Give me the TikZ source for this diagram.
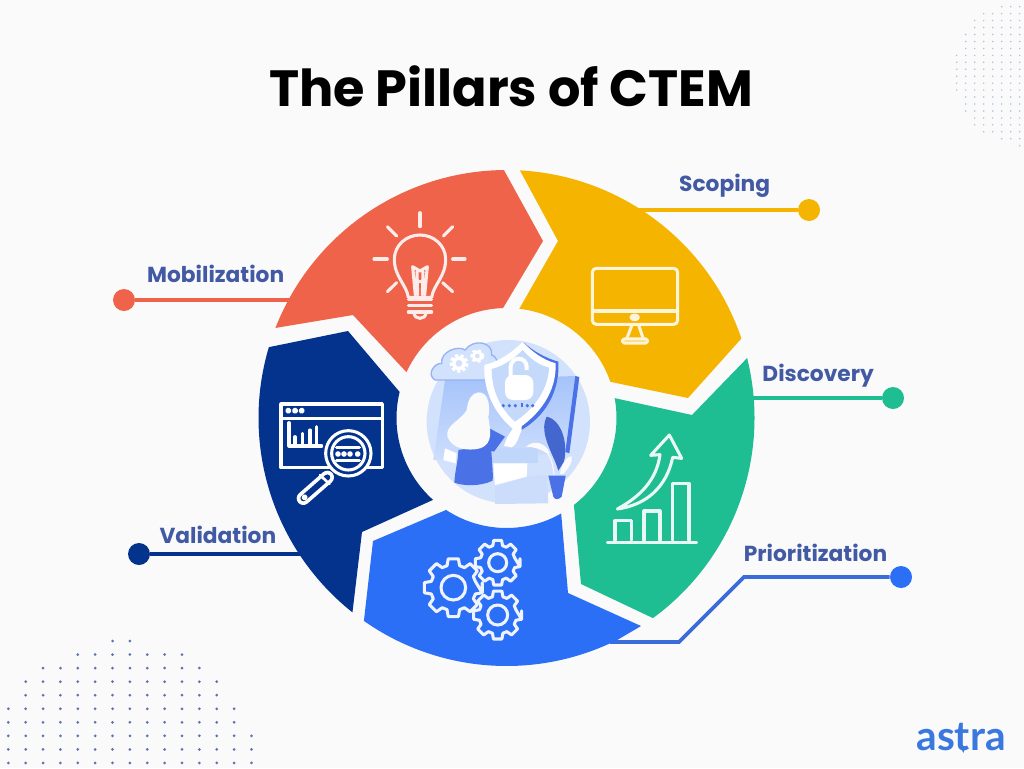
\documentclass[tikz,border=0pt]{standalone}
\usepackage{fontspec}
\setmainfont{Poppins}
\newfontfamily\logofont{Lato}
\usetikzlibrary{positioning}

\definecolor{paper}{HTML}{FAFAFB}
\definecolor{redseg}{HTML}{EE6349}
\definecolor{yellowseg}{HTML}{F5B400}
\definecolor{greenseg}{HTML}{1FBD92}
\definecolor{blueseg}{HTML}{2B6FF6}
\definecolor{navyseg}{HTML}{03338C}
\definecolor{labelblue}{HTML}{4259A3}
\definecolor{prioline}{HTML}{3A6CDC}
\definecolor{logoblue}{HTML}{3A78E0}
\definecolor{blob}{HTML}{D3E2FC}
\definecolor{panel}{HTML}{A5C3FA}
\definecolor{deepleaf}{HTML}{4A72E6}

\tikzset{
    hub/.style={shift={(506.5,418)}},
    pillar/.style={
        font=\bfseries\fontsize{16.3}{18}\selectfont,
        text=labelblue,
        inner sep=0pt
    },
    pin/.style={
        circle,
        fill=#1,
        inner sep=0pt,
        minimum size=16.5pt
    },
    stem/.style={draw=#1, line width=2.7pt},
    iconline/.style={draw=#1, line width=2.3pt, line join=round, line cap=round}
}

\newcommand{\gearicon}[4]{
    \begin{scope}[shift={(#1,#2)}]
      \draw[iconline=white!92!blueseg, fill=blueseg] (10:#3) foreach \a in {0,45,...,315} {
          -- (\a-10:#3) -- (\a+10:#3) -- (\a+16:#3*.78) -- (\a+29:#3*.78)
      } -- cycle;
      \draw[iconline=white!92!blueseg] (0,0) circle (#4);
    \end{scope}
}

\begin{document}
\begin{tikzpicture}[x=.75pt, y=-.75pt]
    \fill[paper] (0,0) rectangle (1024,768);
    \useasboundingbox (0,0) rectangle (1024,768);

    % dots, lower left
    \foreach \row/\from/\to in {0/6/7, 1/4/10, 2/2/11, 3/1/12, 4/1/12, 5/0/13, 6/0/13, 7/0/14, 8/0/14, 9/0/14}
      \foreach \k in {\from,...,\to}
        \fill[labelblue!85] (8.3+17.37*\k, 641+13.55*\row) circle (1.5);

    % dots, upper right
    \foreach \row/\from in {0/5, 1/3, 2/2, 3/2, 4/1, 5/1, 6/1, 7/0, 8/0, 9/0, 10/0, 11/0, 12/0, 13/1, 14/1, 15/1, 16/2, 17/2, 18/3, 19/5, 20/7}
      \foreach \k in {\from,...,7}
        \fill[labelblue!40] (956.7+9*\k, 6.7+6.95*\row) circle (.85);

    \node (title) at (511,86) {\bfseries\fontsize{38.2}{44}\selectfont The Pillars of CTEM};

    % pins and their labels
    \node (scopingpin) [pin=yellowseg] at (809,210) {};
    \node (discoverypin) [pin=greenseg] at (893,398) {};
    \node (prioritizationpin) [pin=blueseg] at (901,577) {};
    \node (validationpin) [pin=navyseg] at (139,554) {};
    \node (mobilizationpin) [pin=redseg] at (124,300) {};

    \coordinate (scopingend) at (630,210);
    \coordinate (discoveryend) at (745,398);
    \coordinate (priokneea) at (744,577);
    \coordinate (priokneeb) at (679,642);
    \coordinate (prioend) at (610,642);
    \coordinate (validationend) at (310,554);
    \coordinate (mobilizationend) at (300,300);

    \draw[stem=yellowseg] (scopingpin) -- (scopingend);
    \draw[stem=greenseg] (discoverypin) -- (discoveryend);
    \draw[stem=prioline] (prioritizationpin) -- (priokneea) -- (priokneeb) -- (prioend);
    \draw[stem=navyseg] (validationpin) -- (validationend);
    \draw[stem=redseg] (mobilizationpin) -- (mobilizationend);

    \node (scoping) [pillar, above left=3.2pt and 23pt of scopingpin] {Scoping};
    \node (discovery) [pillar, above left=1.8pt and 8.2pt of discoverypin] {Discovery};
    \node (prioritization) [pillar, above left=5.5pt and 4.2pt of prioritizationpin] {Prioritization};
    \node (validation) [pillar, above right=1.5pt and 9.2pt of validationpin] {Validation};
    \node (mobilization) [pillar, above right=6.7pt and 11.2pt of mobilizationpin] {Mobilization};

    % the five pillars
    \fill[redseg] ([hub]201.3:248) arc[start angle=201.3, end angle=269.4, radius=248]
        -- (543,241) -- ([hub]268.2:110) arc[start angle=268.2, end angle=204.6, radius=110]
        -- (353,315) -- cycle;
    \fill[yellowseg] ([hub]273.1:248) arc[start angle=273.1, end angle=341.3, radius=248]
        -- (688,398) -- ([hub]340.8:110) arc[start angle=340.8, end angle=276.7, radius=110]
        -- (558,241) -- cycle;
    \fill[greenseg] ([hub]346:248) arc[start angle=346, end angle=413.8, radius=248]
        -- (581,584) -- ([hub]52.2:110) arc[start angle=52.2, end angle=-10.4, radius=110]
        -- (692,415) -- cycle;
    \fill[blueseg] ([hub]63.2:248) arc[start angle=63.2, end angle=125.1, radius=248]
        -- (373,541) -- ([hub]123.3:110) arc[start angle=123.3, end angle=60.2, radius=110]
        -- (568,593) -- (641,626) -- cycle;
    \fill[navyseg] ([hub]128.4:248) arc[start angle=128.4, end angle=196.6, radius=248]
        -- (348,331) -- ([hub]193.7:110) arc[start angle=193.7, end angle=131.9, radius=110]
        -- (362,532) -- cycle;

    % bulb
    \begin{scope}[shift={(260,170)}, scale=1/3, every path/.style={iconline=white!88!redseg}]
      \draw (445,382) .. controls (440,345) and (403,320) .. (403,268)
          .. controls (403,225) and (440,195) .. (480,195)
          .. controls (520,195) and (557,225) .. (557,268)
          .. controls (557,320) and (520,345) .. (515,382) -- cycle;
      \draw (466,375) -- (458,290) -- (480,303) -- (502,290) -- (494,375) (471,305) -- (473,375) (489,305) -- (487,375) (472,335) -- (488,335);
      \draw (445,388) -- (515,388) (445,407) -- (515,407) (445,426) -- (515,426);
      \draw (462,430) .. controls (465,450) and (495,450) .. (498,430);
      \foreach \a/\b/\c/\d in {480/128/480/170, 382/170/410/198, 578/170/550/198, 342/267/382/267, 578/267/615/267, 382/365/410/338, 578/365/548/338}
        \draw (\a,\b) -- (\c,\d);
    \end{scope}

    % monitor
    \begin{scope}[shift={(510,170)}, scale=1/3, every path/.style={iconline=white!85!yellowseg}]
      \draw[rounded corners=3pt] (247,295) rectangle (503,463);
      \draw (247,423) -- (503,423);
      \draw (366,465) -- (350,507) (386,465) -- (400,507);
      \draw[rounded corners=1pt] (338,507) rectangle (412,519);
      \fill[white!85!yellowseg] (374,442) ellipse (11 and 7);
    \end{scope}

    % chart with arrow
    \begin{scope}[shift={(560,350)}, scale=1/3, every path/.style={iconline=white!90!greenseg}]
      \draw (142,577) -- (410,577);
      \draw (165,570) -- (165,512) -- (215,512) -- (215,570);
      \draw (252,570) -- (252,483) -- (300,483) -- (300,570);
      \draw (338,570) -- (338,400) -- (387,400) -- (387,570);
      \draw (172,477) .. controls (240,440) and (290,390) .. (300,314) -- (272,316) -- (328,255)
          -- (365,325) -- (338,322) .. controls (320,410) and (260,465) .. (172,477) -- cycle;
    \end{scope}

    % gears
    \begin{scope}[shift={(350,500)}, scale=1/3]
      \gearicon{310}{263}{88}{37}
      \gearicon{443}{188}{68}{27}
      \gearicon{443}{345}{73}{30}
    \end{scope}

    % window and magnifier
    \begin{scope}[shift={(120,320)}, scale=1/3, every path/.style={iconline=white}]
      \draw[line cap=butt] (483,252) rectangle (787,443);
      \draw (483,295) -- (787,295);
      \foreach \a in {505,525,545}
        \fill[white] (\a,272) circle (5);
      \draw (507,308) -- (507,378) -- (605,378);
      \foreach \a/\b in {525/350, 548/340, 570/330, 590/320}
        \draw (\a,\b) -- (\a,378);
      \draw[line width=10pt] (622,472) -- (550,535);
      \draw[draw=navyseg, line width=4.4pt] (622,472) -- (550,535);
      \fill[white] (554,532) circle (5);
      \draw[draw=white, line width=2pt] (600,465) -- (628,492);
      \draw[fill=navyseg] (685,400) circle (68);
      \draw (685,400) circle (50);
      \draw[line width=2.6pt] (650,382) -- (718,382) (650,422) -- (718,422);
      \foreach \a in {654,672,690,713}
        \fill[white] (\a,402) circle (4.5);
    \end{scope}

    % centre illustration
    \begin{scope}[shift={(390,320)}, scale=1/3]
      \fill[blob] (355,305) circle (245);
      \shade[top color=panel, bottom color=panel!55!white] (165,180) -- (558,168) -- (530,400) -- (130,420) -- cycle;
      \fill[deepleaf] (556,168) -- (568,171) -- (538,400) -- (526,396) -- cycle;
      % cloud
      \draw[fill=blob, draw=panel!80!deepleaf, line width=1pt] (135,180)
          .. controls (110,165) and (130,130) .. (155,130)
          .. controls (150,95) and (205,75) .. (225,90)
          .. controls (250,55) and (310,65) .. (305,105)
          .. controls (330,110) and (335,180) .. (305,180) -- cycle;
      \foreach \x/\y/\r/\w in {207/130/23/2.6pt, 262/108/17/2.1pt} {
        \draw[white, line width=\w, dash pattern=on 2.4pt off 1.6pt] (\x,\y) circle (\r);
        \draw[white, line width=\w] (\x,\y) circle (\r*.7);
      }
      % lower sheet
      \fill[blob!85!panel] (315,500) -- (412,470) -- (470,465) -- (475,550) -- (315,552) -- cycle;
      \fill[white] (310,430) -- (412,430) -- (410,470) -- (315,495) -- cycle;
      \fill[blob!60!panel] (302,385) -- (445,385) -- (445,430) -- (302,430) -- cycle;
      \fill[white] (165,385) -- (200,400) -- (197,430) -- (160,420) -- cycle;
      % shield
      \fill[deepleaf] (400,66) .. controls (430,95) and (470,115) .. (505,125)
          .. controls (510,210) and (470,290) .. (385,335) -- (375,330) -- cycle;
      \fill[white] (398,65) .. controls (365,100) and (325,125) .. (283,135)
          .. controls (280,210) and (310,280) .. (375,332)
          .. controls (450,285) and (500,215) .. (497,130)
          .. controls (460,120) and (425,95) .. (398,65) -- cycle;
      \fill[blob!70!panel] (398,90) .. controls (370,118) and (340,138) .. (305,147)
          .. controls (305,210) and (330,265) .. (375,305)
          .. controls (435,265) and (475,205) .. (477,143)
          .. controls (445,135) and (420,115) .. (398,90) -- cycle;
      \draw[white, line width=3pt] (362,170) -- (362,140) arc[start angle=180, end angle=360, radius=24] -- (410,150);
      \fill[white, rounded corners=6] (345,165) rectangle (430,240);
      \foreach \a in {340,358,376,412,428}
        \fill[deepleaf] (\a,257) circle (5.5);
      \draw[deepleaf, line width=.8pt] (392,251) -- (396,251) -- (396,262);
      % woman
      \fill[deepleaf] (298,325) -- (345,350) -- (312,395) -- (270,385) -- cycle;
      \fill[white] (342,378) .. controls (350,350) and (365,325) .. (395,300) -- (395,330) .. controls (385,350) and (385,370) .. (365,382) -- cycle;
      \fill[deepleaf] (205,390) -- (303,375) .. controls (305,420) and (310,455) .. (308,482)
          .. controls (270,500) and (220,498) .. (193,488) .. controls (195,450) and (205,420) .. (205,390) -- cycle;
      \fill[paper] (265,217) .. controls (300,215) and (300,270) .. (295,290)
          .. controls (300,330) and (312,370) .. (270,385)
          .. controls (230,395) and (185,385) .. (172,350)
          .. controls (165,315) and (215,300) .. (230,270)
          .. controls (235,235) and (245,220) .. (265,217) -- cycle;
      % plant
      \fill[deepleaf!90!black] (470,290) .. controls (515,300) and (535,370) .. (522,425)
          -- (505,452) .. controls (490,400) and (445,340) .. (470,290) -- cycle;
      \fill[paper] (408,380) .. controls (430,360) and (465,365) .. (480,400) -- (470,400)
          .. controls (450,385) and (425,380) .. (408,380) -- cycle;
      \draw[paper, line width=.8pt] (470,395) .. controls (485,415) and (490,440) .. (492,465);
      \fill[paper] (510,462) .. controls (515,430) and (530,410) .. (545,408) .. controls (550,425) and (535,445) .. (520,462) -- cycle;
      \fill[deepleaf] (475,467) -- (527,467) -- (515,530) .. controls (505,540) and (495,540) .. (490,530) -- cycle;
    \end{scope}

    % logo
    \node (logo) [text=logoblue, inner sep=0pt] at (961,737) {\logofont\bfseries\fontsize{30.5}{34}\selectfont astra};
    \fill[logoblue] (960.5,746) -- (966,746) -- (963.2,753) -- cycle;
\end{tikzpicture}
\end{document}
